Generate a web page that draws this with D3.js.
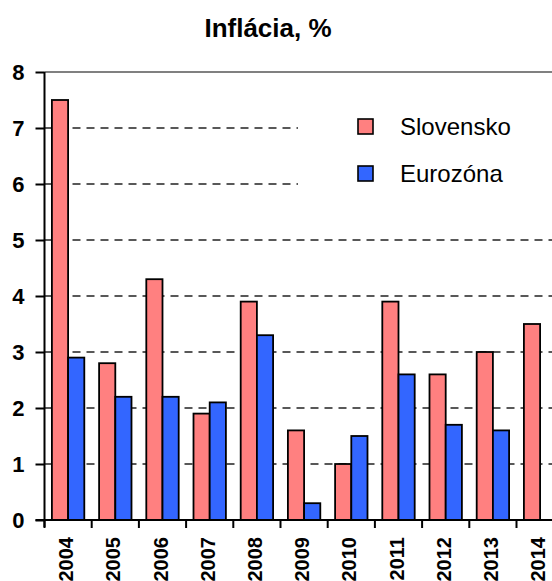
<!DOCTYPE html>
<html><head><meta charset="utf-8">
<script src="https://cdn.jsdelivr.net/npm/d3@7/dist/d3.min.js"></script>
<style>body{margin:0;background:#fff}svg{display:block;font-family:"Liberation Sans",Arial,sans-serif}</style>
</head><body><svg id="c" width="552" height="581"></svg>
<script>
const years = ["2004","2005","2006","2007","2008","2009","2010","2011","2012","2013","2014"];
const slovensko = [7.5, 2.8, 4.3, 1.9, 3.9, 1.6, 1.0, 3.9, 2.6, 3.0, 3.5];
const eurozona = [2.9, 2.2, 2.2, 2.1, 3.3, 0.3, 1.5, 2.6, 1.7, 1.6, null];
const seriesNames = ["Slovensko", "Eurozóna"];
const seriesColors = ["#FF8080", "#3366FF"];
const yTicks = [0,1,2,3,4,5,6,7,8];
const title = "Inflácia, %";

const svg = d3.select("#c");
const plotLeft = 44.5, catW = 47.2, plotTop = 72, plotBottom = 520;
const x = d3.scaleBand().domain(years).range([plotLeft, plotLeft + years.length*catW]).padding(0);
const y = d3.scaleLinear().domain([0,8]).range([plotBottom, plotTop]);
const xs = d3.scaleBand().domain(seriesNames).range([7.4, catW-7.4]).padding(0);

const W = 552;
// gridlines
const grid = svg.append("g");
yTicks.filter(t => t>0 && t<8).forEach(t => {
  const x2 = (t===6||t===7) ? 298 : W+20;
  grid.append("line").attr("x1", plotLeft).attr("x2", x2).attr("y1", y(t)).attr("y2", y(t))
    .attr("stroke", "#222").attr("stroke-width", 1.3).attr("stroke-dasharray", "8,6");
});
// top border
svg.append("line").attr("x1", plotLeft).attr("x2", W+20).attr("y1", y(8)).attr("y2", y(8))
  .attr("stroke", "#808080").attr("stroke-width", 2);

// bars
const data = years.map((yr,i) => ({yr, vals:[slovensko[i], eurozona[i]]}));
const g = svg.append("g");
data.forEach(d => {
  d.vals.forEach((v,j) => {
    if (v == null) return;
    g.append("rect")
      .attr("x", x(d.yr) + xs(seriesNames[j]))
      .attr("y", y(v))
      .attr("width", xs.bandwidth())
      .attr("height", y(0) - y(v))
      .attr("fill", seriesColors[j])
      .attr("stroke", "#000").attr("stroke-width", 1.8);
  });
});

// y axis
const yAxis = d3.axisLeft(y).tickValues(yTicks).tickSize(9).tickPadding(11).tickFormat(d3.format("d"));
const ya = svg.append("g").attr("transform", `translate(${plotLeft},0)`).call(yAxis);
ya.select(".domain").attr("stroke", "#000").attr("stroke-width", 2).attr("d", `M0,${plotTop}V${plotBottom+7}`);
ya.selectAll(".tick line").attr("stroke", "#000").attr("stroke-width", 2);
ya.selectAll(".tick text").attr("font-size", 22).attr("font-weight", "bold").attr("fill", "#000")
  .attr("font-family", "'Liberation Sans', Arial, sans-serif");

// x axis
const xa = svg.append("g").attr("transform", `translate(0,${plotBottom})`);
xa.append("line").attr("x1", plotLeft-9).attr("x2", W+20).attr("y1", 0).attr("y2", 0)
  .attr("stroke", "#000").attr("stroke-width", 2);
years.forEach((yr,i) => {
  xa.append("line").attr("x1", x(yr)).attr("x2", x(yr)).attr("y1", 0).attr("y2", 8)
    .attr("stroke", "#000").attr("stroke-width", 2);
});
years.forEach(yr => {
  const cx = x(yr) + x.bandwidth()/2 - 2;
  xa.append("text").attr("transform", `translate(${cx},17) rotate(-90)`)
    .attr("text-anchor", "end").attr("dy", "0.35em")
    .attr("font-size", 20).attr("font-weight", "bold").text(yr);
});

// title
svg.append("text").attr("x", 268).attr("y", 37).attr("text-anchor", "middle")
  .attr("font-size", 26).attr("font-weight", "bold").text(title);

// legend
const lg = svg.append("g");
seriesNames.forEach((n,j) => {
  const ly = 127 + j*47;
  lg.append("rect").attr("x", 358).attr("y", ly-8).attr("width", 15).attr("height", 15)
    .attr("fill", seriesColors[j]).attr("stroke", "#000").attr("stroke-width", 1.6);
  lg.append("text").attr("x", 400).attr("y", ly).attr("dy", "0.35em")
    .attr("font-size", 24).text(n);
});
</script></body></html>
